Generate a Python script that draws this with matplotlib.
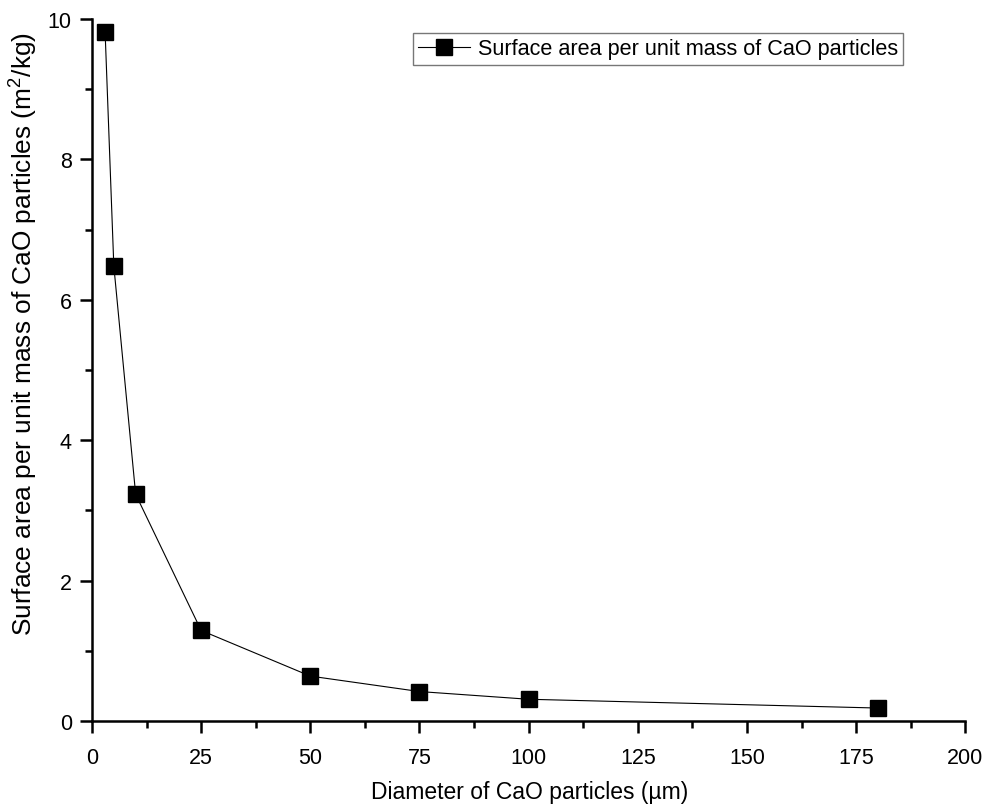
import matplotlib
matplotlib.use("Agg")
import matplotlib.pyplot as plt
from matplotlib.ticker import MultipleLocator

plt.rcParams['font.family'] = ['Liberation Sans', 'DejaVu Sans']
plt.rcParams['mathtext.fontset'] = 'custom'
plt.rcParams['mathtext.rm'] = 'Liberation Sans'

diameter = [3, 5, 10, 25, 50, 75, 100, 180]
surface_area = [9.82, 6.48, 3.23, 1.29, 0.64, 0.42, 0.31, 0.185]
series_label = "Surface area per unit mass of CaO particles"
xlabel = "Diameter of CaO particles (\u00b5m)"
ylabel = "Surface area per unit mass of CaO particles (m$^2$/kg)"

fig = plt.figure(figsize=(9.86, 8.12), dpi=100)
ax = fig.add_axes([0.0933, 0.1108, 0.8857, 0.8646])

ax.plot(diameter, surface_area, color='black', linewidth=0.8, marker='s',
        markersize=11.5, markerfacecolor='black', markeredgecolor='black',
        label=series_label)

ax.set_xlim(0, 200)
ax.set_ylim(0, 10)
ax.xaxis.set_major_locator(MultipleLocator(25))
ax.xaxis.set_minor_locator(MultipleLocator(12.5))
ax.yaxis.set_major_locator(MultipleLocator(2))
ax.yaxis.set_minor_locator(MultipleLocator(1))

for s in ['top', 'right']:
    ax.spines[s].set_visible(False)
for s in ['left', 'bottom']:
    ax.spines[s].set_linewidth(1.8)

ax.tick_params(which='major', direction='out', length=8.5, width=1.8, labelsize=15.5)
ax.tick_params(axis='x', which='major', pad=10)
ax.tick_params(axis='y', which='major', pad=6)
ax.tick_params(which='minor', direction='out', length=5, width=1.8)

ax.set_xlabel(xlabel, fontsize=16.5)
ax.xaxis.set_label_coords(0.5006, -0.101)
ax.xaxis.label.set_va('center')

ax.set_ylabel(ylabel, fontsize=18.9)
ax.yaxis.set_label_coords(-0.079, 0.553)
ax.yaxis.label.set_va('center')

leg = ax.legend(loc='upper right', bbox_to_anchor=(0.929, 0.98), fontsize=15.6,
                frameon=True, fancybox=False, edgecolor='#555555',
                handlelength=2.4, handletextpad=0.35, borderpad=0.25,
                borderaxespad=0)
leg.get_frame().set_linewidth(1.0)

fig.savefig("out.png", dpi=100)
